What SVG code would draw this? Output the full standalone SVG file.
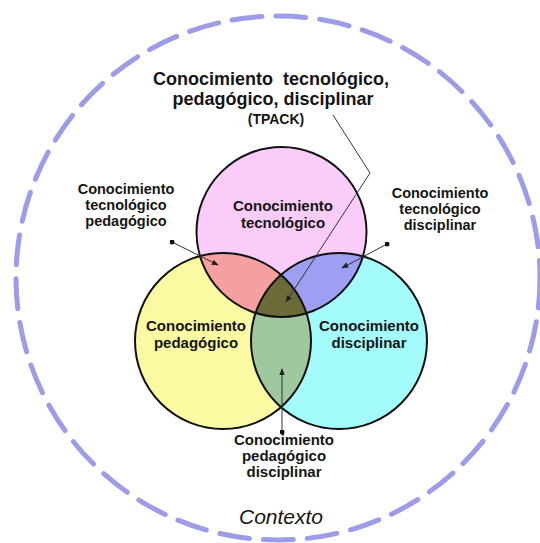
<svg xmlns="http://www.w3.org/2000/svg" width="540" height="543" viewBox="0 0 540 543">
<style>
text{font-family:"Liberation Sans",Arial,sans-serif;fill:#151515;text-anchor:middle}
.b{font-weight:bold;font-size:15px}
.s{font-weight:bold;font-size:14.5px}
.t{font-weight:bold;font-size:18px}
.ring{fill:none;stroke:#111;stroke-width:2}
.con{fill:none;stroke:#333;stroke-width:1}
</style>
<defs>
<circle id="cT" cx="281.5" cy="232" r="85"/>
<circle id="cP" cx="223" cy="341" r="88"/>
<circle id="cD" cx="339" cy="341" r="88"/>
<clipPath id="kT"><use href="#cT"/></clipPath>
<clipPath id="kP"><use href="#cP"/></clipPath>
<clipPath id="kD"><use href="#cD"/></clipPath>
<marker id="ah" viewBox="0 0 10 10" refX="9" refY="5" markerWidth="7" markerHeight="7" orient="auto" markerUnits="userSpaceOnUse"><path d="M0,1 L10,5 L0,9 z" fill="#222"/></marker>
<marker id="dot" viewBox="0 0 10 10" refX="5" refY="5" markerWidth="5" markerHeight="5" markerUnits="userSpaceOnUse"><circle cx="5" cy="5" r="5" fill="#111"/></marker>
</defs>
<rect width="540" height="543" fill="#fff"/>
<g id="contexto">
<circle cx="278" cy="278" r="262" fill="none" stroke="#9c9ce8" stroke-width="5" stroke-dasharray="30 14" stroke-linecap="round"/>
<text x="281" y="524" style="font-size:21px;font-style:italic">Contexto</text>
</g>
<g id="tk">
<use href="#cT" fill="#f9ccf9"/>
</g>
<g id="pk">
<use href="#cP" fill="#fbfaa3"/>
</g>
<g id="ck">
<use href="#cD" fill="#a3fbfb"/>
</g>
<g id="tpk"><g clip-path="url(#kT)"><use href="#cP" fill="#f5a0a0"/></g></g>
<g id="tck"><g clip-path="url(#kT)"><use href="#cD" fill="#9e9ef2"/></g></g>
<g id="pck"><g clip-path="url(#kP)"><use href="#cD" fill="#9fc89f"/></g></g>
<g id="tpack"><g clip-path="url(#kT)"><g clip-path="url(#kP)"><use href="#cD" fill="#6b6b3a"/></g></g></g>
<g id="outlines">
<use href="#cT" class="ring"/>
<use href="#cP" class="ring"/>
<use href="#cD" class="ring"/>
</g>
<g id="labels-inner">
<text class="b" x="283" y="211">Conocimiento</text>
<text class="b" x="283" y="228">tecnológico</text>
<text class="b" x="196" y="331">Conocimiento</text>
<text class="b" x="196" y="348">pedagógico</text>
<text class="b" x="369" y="331">Conocimiento</text>
<text class="b" x="369" y="348">disciplinar</text>
</g>
<g id="title">
<text class="t" x="271" y="85" xml:space="preserve">Conocimiento  tecnológico,</text>
<text class="t" x="273" y="105">pedagógico, disciplinar</text>
<text x="276" y="124" style="font-weight:bold;font-size:14px">(TPACK)</text>
</g>
<g id="label-tpk">
<text class="s" x="126" y="194">Conocimiento</text>
<text class="s" x="126" y="210">tecnológico</text>
<text class="s" x="126" y="226">pedagógico</text>
</g>
<g id="label-tck">
<text class="s" x="440" y="198">Conocimiento</text>
<text class="s" x="440" y="214">tecnológico</text>
<text class="s" x="440" y="230">disciplinar</text>
</g>
<g id="label-pck">
<text class="b" x="284" y="445">Conocimiento</text>
<text class="b" x="284" y="461">pedagógico</text>
<text class="b" x="284" y="477">disciplinar</text>
</g>
<g id="connectors">
<path class="con" d="M172,242 L218,265" marker-start="url(#dot)" marker-end="url(#ah)"/>
<path class="con" d="M387,244 L342,268" marker-start="url(#dot)" marker-end="url(#ah)"/>
<path class="con" d="M333,115 L370,173 L286,302" marker-end="url(#ah)"/>
<path class="con" d="M282,432 L282,369" marker-start="url(#dot)" marker-end="url(#ah)"/>
</g>
</svg>
